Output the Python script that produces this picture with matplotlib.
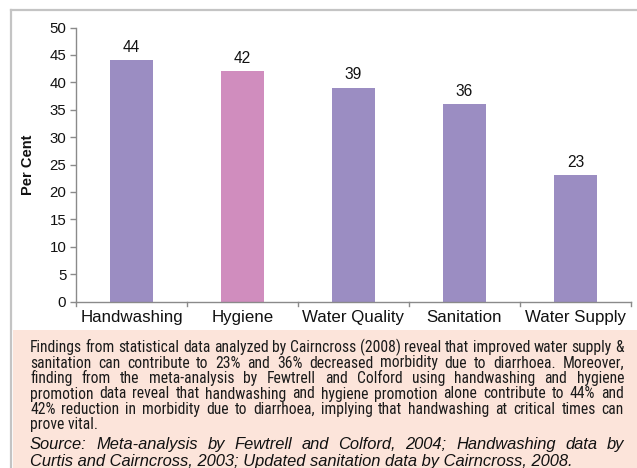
import matplotlib
matplotlib.use("Agg")
import matplotlib.pyplot as plt
from matplotlib.lines import Line2D
from matplotlib.patches import Rectangle
from matplotlib import font_manager
from matplotlib.font_manager import FontProperties

categories = ["Handwashing", "Hygiene", "Water Quality", "Sanitation", "Water Supply"]
values = [44, 42, 39, 36, 23]
bar_colors = ["#9B8DC2", "#D08DBE", "#9B8DC2", "#9B8DC2", "#9B8DC2"]
y_ticks = [0, 5, 10, 15, 20, 25, 30, 35, 40, 45, 50]
y_label = "Per Cent"

para_lines = [
    "Findings from statistical data analyzed by Cairncross (2008) reveal that improved water supply &",
    "sanitation can contribute to 23% and 36% decreased morbidity due to diarrhoea. Moreover,",
    "finding from the meta-analysis by Fewtrell and Colford using handwashing and hygiene",
    "promotion data reveal that handwashing and hygiene promotion alone contribute to 44% and",
    "42% reduction in morbidity due to diarrhoea, implying that handwashing at critical times can",
    "prove vital.",
]
source_lines = [
    "Source: Meta-analysis by Fewtrell and Colford, 2004; Handwashing data by",
    "Curtis and Cairncross, 2003; Updated sanitation data by Cairncross, 2008.",
]

W, H = 637, 468
fig = plt.figure(figsize=(W / 100, H / 100), dpi=100)
fig.patch.set_facecolor("white")

names = {f.name for f in font_manager.fontManager.ttflist}
base_font = "Liberation Sans" if "Liberation Sans" in names else "DejaVu Sans"
plt.rcParams["font.family"] = [base_font, "DejaVu Sans"]

narrow_fp = None
prefs = ["liberationsansnarrow-regular", "liberationsans-narrow", "robotocondensed-regular",
         "dejavusanscondensed.ttf", "notosans-condensed.ttf", "opensans-condensed",
         "opensanscondensed"]
files = [f.fname for f in font_manager.fontManager.ttflist]
for p in prefs:
    for fn in files:
        base = fn.lower().replace(" ", "").split("/")[-1]
        if p in base and not any(k in base for k in ("bold", "italic", "oblique")):
            narrow_fp = fn
            break
    if narrow_fp:
        break

def fx(px):
    return px / W

def fy(py):
    return 1 - py / H

fig.add_artist(Line2D([fx(10.5), fx(10.5)], [fy(9.5), 0], transform=fig.transFigure,
                      color="#C4C4C4", lw=1.6))
fig.add_artist(Line2D([fx(10.5), 1], [fy(9.5), fy(9.5)], transform=fig.transFigure,
                      color="#C4C4C4", lw=1.6))
fig.add_artist(Rectangle((fx(13), 0), 1 - fx(13), fy(330), transform=fig.transFigure,
                         facecolor="#FCE4DA", edgecolor="none"))

axw = 631 - 76
ax = fig.add_axes([fx(76), fy(301.5), fx(631) - fx(76), fy(27.5) - fy(301.5)])
x = list(range(len(categories)))
ax.bar(x, values, width=0.39, color=bar_colors, zorder=2)
for xi, v in zip(x, values):
    ax.annotate(str(v), (xi, v), xytext=(0, 4), textcoords="offset points",
                ha="center", va="bottom", fontsize=11.2, color="#111111")

ax.set_xlim(-0.5, len(categories) - 0.5)
ax.set_ylim(0, 50)
ax.set_yticks(y_ticks)
ax.set_yticklabels([str(t) for t in y_ticks], fontsize=10.8, color="#111111")
ax.set_xticks(x)
ax.set_xticklabels(categories, fontsize=12.2, color="#111111")
ax.tick_params(axis="x", length=0, pad=6)
ax.tick_params(axis="y", length=4, width=1, color="#8A8A8A", pad=3)
for b in [i - 0.5 for i in range(len(categories) + 1)]:
    ax.plot([b, b], [0, -0.8], color="#8A8A8A", lw=1, clip_on=False, zorder=3)
for s in ["top", "right"]:
    ax.spines[s].set_visible(False)
for s in ["left", "bottom"]:
    ax.spines[s].set_color("#8A8A8A")
    ax.spines[s].set_linewidth(1)
ax.set_ylabel(y_label, fontsize=10.5, fontweight="bold", color="#111111")
ax.yaxis.set_label_coords((35 - 76) / axw, 0.5)

renderer = fig.canvas.get_renderer()

def text_width(s, **kw):
    t = fig.text(0, 0, s, **kw)
    w = t.get_window_extent(renderer).width
    t.remove()
    return w

def fit_size(s, target, **kw):
    w10 = text_width(s, fontsize=10, **kw)
    return 10 * target / w10

def justify(line, y_px, x0, x1, last=False, **kw):
    words = line.split(" ")
    if last or len(words) == 1:
        fig.text(fx(x0), fy(y_px), line, ha="left", va="baseline", **kw)
        return
    widths = [text_width(w_, **kw) for w_ in words]
    gap = ((x1 - x0) - sum(widths)) / (len(words) - 1)
    xp = x0
    for w_, wd in zip(words, widths):
        fig.text(fx(xp), fy(y_px), w_, ha="left", va="baseline", **kw)
        xp += wd + gap

x0, x1 = 30, 624
if narrow_fp:
    p_size = fit_size(para_lines[0], 590, fontproperties=FontProperties(fname=narrow_fp))
    p_size = min(p_size, 11.5)
    p_kw = dict(fontproperties=FontProperties(fname=narrow_fp, size=p_size), color="#1A1A1A")
else:
    p_size = min(fit_size(para_lines[0], 590, family=[base_font]), 10.0)
    p_kw = dict(family=[base_font, "DejaVu Sans"], fontsize=p_size, color="#1A1A1A")

para_base = [352, 367.5, 383, 398.5, 414, 429.5]
for i, (ln, yb) in enumerate(zip(para_lines, para_base)):
    justify(ln, yb, x0, x1, last=(i == len(para_lines) - 1), **p_kw)

s_kw = dict(family=[base_font, "DejaVu Sans"], style="italic", color="#111111")
s_size = fit_size(source_lines[1], 547, **s_kw)
s_kw["fontsize"] = s_size
justify(source_lines[0], 449, x0, x1, **s_kw)
justify(source_lines[1], 466, x0, x1, last=True, **s_kw)

fig.savefig("out.png", dpi=100, facecolor=fig.get_facecolor())
